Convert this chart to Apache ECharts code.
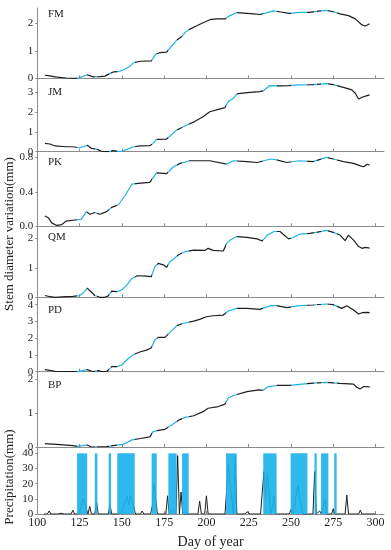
<!DOCTYPE html>
<html>
<head>
<meta charset="utf-8">
<script src="https://cdn.jsdelivr.net/npm/echarts@6/dist/echarts.min.js"></script>
<style>html,body{margin:0;padding:0;background:#fff;}#c{width:391px;height:550px;}</style>
</head>
<body>
<div id="c"></div>
<script>
// ---------- data ----------
const xTicks = [100, 125, 150, 175, 200, 225, 250, 275, 300];
const panelNames = ['FM', 'JM', 'PK', 'QM', 'PD', 'BP'];
const yTickValues = [[0, 1, 2], [0, 1, 2, 3], [0, 0.4, 0.8], [0, 1, 2], [0, 1, 2, 3, 4], [0, 1, 2]];
const precipTicks = [0, 10, 20, 30, 40];
// rain periods (day of year ranges)
const rainPeriods = [[123.5,129.5],[134,135.5],[142.2,143.6],[147.3,157.6],[167.6,170.6],[177.5,182.4],[185.6,189.5],[211.6,217.9],[233.6,241.5],[249.8,259.7],[263.9,265.2],[267.8,272.1],[275.6,277]];

const fm = [[104.5,0.11],[107.5,0.09],[110.5,0.05],[117,0.01],[124,0],[127,0.07],[129.5,0.13],[133,0.05],[137,0.06],[140,0.08],[143,0.18],[145,0.23],[148,0.24],[152,0.34],[155,0.45],[157,0.57],[161,0.62],[167.5,0.63],[170,0.88],[172.5,0.93],[176.5,0.95],[178.5,1.11],[182.5,1.39],[185.5,1.52],[187.5,1.67],[190,1.78],[194,1.90],[198,2.02],[202,2.13],[206,2.16],[211,2.16],[214,2.28],[218,2.39],[224,2.36],[228,2.34],[231.5,2.32],[235.5,2.38],[239.5,2.45],[244,2.41],[249,2.36],[255,2.40],[261,2.40],[266,2.44],[271,2.47],[275,2.42],[279,2.34],[284,2.28],[288,2.16],[292,1.94],[294,1.90],[296.5,1.98]];
const jm = [[104.5,0.42],[107.5,0.39],[110.5,0.29],[117,0.25],[121,0.25],[125,0.20],[129.5,0.32],[132,0.17],[135,0.13],[138,0.02],[142,0],[145,0.05],[149,0],[153,0.12],[157,0.25],[161,0.29],[166.5,0.30],[168.5,0.42],[170.5,0.62],[176.5,0.64],[178.5,0.79],[182.5,1.10],[188.5,1.35],[193,1.52],[198,1.77],[202,2.02],[207,2.14],[211,2.23],[213,2.53],[216,2.70],[218,2.92],[224,2.98],[231.5,3.03],[233.5,3.07],[237.5,3.34],[243.5,3.32],[249,3.34],[255,3.37],[263,3.39],[271,3.44],[275,3.39],[281,3.25],[286,3.12],[288,2.95],[290,2.66],[292,2.75],[293,2.66],[295,2.83],[296.5,2.87]];
const pk = [[104.5,0.12],[106.5,0.10],[108.5,0.04],[111.5,0.01],[114.5,0.02],[117,0.06],[121,0.07],[126,0.08],[129,0.17],[131,0.14],[134,0.16],[137,0.14],[141,0.17],[144,0.22],[148,0.25],[152,0.36],[156,0.49],[161,0.50],[166.5,0.51],[170.5,0.62],[176.5,0.61],[180.5,0.69],[184.5,0.73],[190,0.76],[202,0.76],[212,0.72],[216,0.76],[224,0.75],[230,0.74],[238,0.78],[241.5,0.77],[247.5,0.74],[255,0.76],[263,0.75],[271,0.80],[275,0.78],[281,0.75],[287,0.73],[291,0.70],[293,0.69],[295,0.72],[296.5,0.71]];
const qm = [[104.5,0.06],[107.5,0.02],[110.5,0],[117,0.02],[121,0.03],[125,0.06],[127,0.14],[129.5,0.31],[131,0.23],[134,0.06],[137,0],[140,0],[142,0.05],[144,0.21],[147,0.19],[150,0.25],[153,0.42],[156,0.64],[159,0.73],[164.5,0.72],[167.5,0.70],[169.5,1.04],[171.5,1.15],[174.5,1.10],[176.5,1.02],[178.5,1.21],[180.5,1.29],[183.5,1.44],[187.5,1.55],[192.5,1.60],[199,1.59],[201,1.66],[204,1.59],[210,1.57],[212,1.83],[214,1.94],[218,2.06],[224,2.03],[230,1.98],[233,1.91],[236,2.11],[240,2.23],[243.5,2.23],[248.5,1.98],[251,2.02],[255,2.14],[261,2.17],[265,2.20],[271,2.27],[275,2.20],[279,2.11],[282,1.92],[284,2.11],[287,1.94],[290,1.72],[292,1.66],[294,1.69],[296.5,1.67]];
const pd = [[104.5,0.12],[107.5,0.08],[110.5,0.02],[117,0.01],[124,0],[129.5,0.12],[133,0],[136,0.06],[138,0],[141,0],[144,0.30],[147,0.30],[150,0.40],[154,0.80],[157,1.03],[161,1.19],[164.5,1.29],[167.5,1.43],[169.5,1.89],[171.5,2.05],[175.5,2.05],[178.5,2.35],[182.5,2.75],[186.5,2.89],[192.5,3.02],[196,3.12],[200,3.28],[204,3.34],[210,3.38],[213,3.62],[218,3.78],[224,3.78],[231.5,3.72],[238,3.94],[241.5,3.94],[247.5,3.82],[255,3.94],[263,3.98],[271,4.04],[275,4.00],[280,3.78],[283,3.94],[287,3.68],[290,3.44],[292,3.52],[295,3.54],[296.5,3.52]];
const bp = [[104.5,0.10],[113.5,0.07],[121,0.04],[124,0.02],[129.5,0.06],[132,0],[141,0.01],[148,0.06],[151,0.08],[156,0.21],[161,0.25],[166.5,0.30],[168.5,0.45],[171.5,0.49],[175.5,0.52],[179.5,0.65],[183.5,0.79],[187.5,0.87],[192.5,0.92],[198,1.04],[201,1.14],[207,1.19],[211,1.26],[213,1.45],[217,1.53],[224,1.63],[231,1.68],[233.5,1.67],[236.5,1.77],[241.5,1.81],[249,1.81],[255,1.84],[263,1.88],[271,1.90],[279,1.87],[287,1.85],[289,1.75],[291,1.71],[293,1.78],[296.5,1.77]];
const precip = [[104,0],[106,0],[107,2],[108,0],[112,0],[113,1],[114,0.5],[115,1],[116,0],[117,0.5],[118,0],[120,0],[121,2.5],[122,0],[124,0],[126,5],[127,10],[128,9],[130,0],[131,5],[132,0],[134,0],[135,8],[136,0],[142,0],[143,6],[144,0],[148,0],[150,2],[151,5],[152,8],[153,12],[154,6],[155,12],[156,11],[157,5],[158,0],[161,0],[162,2],[163,0],[167,0],[168,5],[169,20],[170,10],[171,0],[176,0],[177,12],[178,0],[179,0],[180,3],[182,0],[183,38.5],[184,0],[185,14.5],[186,0],[195,0],[196,8.5],[197,0],[199,0],[200,12],[201,0],[211,0],[213,33],[214,20],[216,0],[217,38],[218,0],[223,0],[224,1.5],[225,1.5],[226,0],[232,0],[234,28],[235,10],[236,27],[237,15],[238,0],[239,5],[240,12],[241,0],[249,0],[250,3],[251,0],[252,5],[254,19],[256,5],[257,0],[263,0],[264,28],[265,0],[266,0],[267,2],[268,0],[269,5],[270,10],[271,0],[274,0],[275,3.5],[276,0],[282,0],[283,12.5],[284,0],[290,0],[291,2.5],[292,0],[300,0]];

const stemSeries = [fm, jm, pk, qm, pd, bp];

// ---------- layout ----------
const FONT = "'Liberation Serif','Times New Roman',serif";
const GRID_LEFT = 37.3, GRID_W = 346.7;
const gridTops = [8, 78.3, 151.7, 226.3, 297.3, 371.7, 447];
const gridHeights = [70.3, 73.4, 74.6, 71, 74.4, 75.3, 68.5];
const yMaxes = [2.556, 3.707, 0.865, 2.407, 4.44, 2.215, 44.2];
const nameY = [16, 93.3, 163.3, 238.3, 311.7, 386.7];
const AXIS_COLOR = '#8c8c8c';
const CYAN = '#1cb2ea';
const BLACK = '#1e1e1e';

const grids = [], xAxes = [], yAxes = [], series = [];
for (let i = 0; i < 7; i++) {
  grids.push({left: GRID_LEFT, top: gridTops[i], width: GRID_W, height: gridHeights[i]});
  const last = i === 6;
  xAxes.push({
    type: 'value', gridIndex: i, min: 100, max: 305,
    axisLine: {show: true, onZero: false, lineStyle: {color: AXIS_COLOR, width: 1}},
    axisTick: {show: true, inside: true, length: 3, customValues: xTicks, lineStyle: {color: AXIS_COLOR}},
    axisLabel: {show: last, customValues: xTicks, fontFamily: FONT, fontSize: 12, color: '#222', margin: 3},
    splitLine: {show: false},
    name: last ? 'Day of year' : '', nameLocation: 'middle', nameGap: 21,
    nameTextStyle: {fontFamily: FONT, fontSize: 14, color: '#222'}
  });
  const ticks = last ? precipTicks : yTickValues[i];
  yAxes.push({
    type: 'value', gridIndex: i, min: 0, max: yMaxes[i],
    axisLine: {show: true, lineStyle: {color: AXIS_COLOR, width: 1}},
    axisTick: {show: true, inside: false, length: 2, customValues: ticks, lineStyle: {color: AXIS_COLOR}},
    axisLabel: {customValues: ticks, fontFamily: FONT, fontSize: 11, color: '#222', margin: 4,
      formatter: (v) => (i === 2 ? v.toFixed(1) : String(Math.round(v)))},
    splitLine: {show: false}
  });
}
stemSeries.forEach((d, i) => {
  series.push({type: 'line', xAxisIndex: i, yAxisIndex: i, data: d, showSymbol: false, symbol: 'none',
    lineStyle: {width: 1.2}, z: 3, animation: false});
});
series.push({type: 'line', xAxisIndex: 6, yAxisIndex: 6, data: precip, symbol: 'none',
  lineStyle: {width: 1, color: BLACK}, itemStyle: {color: BLACK}, z: 2, animation: false});
series.push({type: 'line', xAxisIndex: 6, yAxisIndex: 6, data: [[100, null]], symbol: 'none', z: 6, animation: false,
  markArea: {silent: true, z: 6, itemStyle: {color: CYAN, opacity: 0.92},
    data: rainPeriods.map(p => [{xAxis: p[0], yAxis: 0}, {xAxis: p[1], yAxis: 40}])}});

const graphics = panelNames.map((n, i) => ({type: 'text', left: 48, top: nameY[i] - 7,
  style: {text: n, font: '11px ' + FONT, fill: '#222'}}));
graphics.push({type: 'text', x: 10, y: 234, rotation: Math.PI / 2,
  style: {text: 'Stem diameter variation(mm)', font: '13px ' + FONT, fill: '#222', align: 'center', verticalAlign: 'middle'}});
graphics.push({type: 'text', x: 10, y: 477, rotation: Math.PI / 2,
  style: {text: 'Precipitation(mm)', font: '13px ' + FONT, fill: '#222', align: 'center', verticalAlign: 'middle'}});

const chart = echarts.init(document.getElementById('c'), null, {renderer: 'canvas'});
chart.setOption({
  animation: false,
  backgroundColor: '#fff',
  grid: grids, xAxis: xAxes, yAxis: yAxes, series: series,
  visualMap: {
    type: 'piecewise', show: false, dimension: 0, seriesIndex: [0, 1, 2, 3, 4, 5],
    pieces: rainPeriods.map(p => ({gte: p[0], lte: p[1], color: CYAN})),
    outOfRange: {color: BLACK}
  },
  graphic: graphics
});
</script>
</body>
</html>
